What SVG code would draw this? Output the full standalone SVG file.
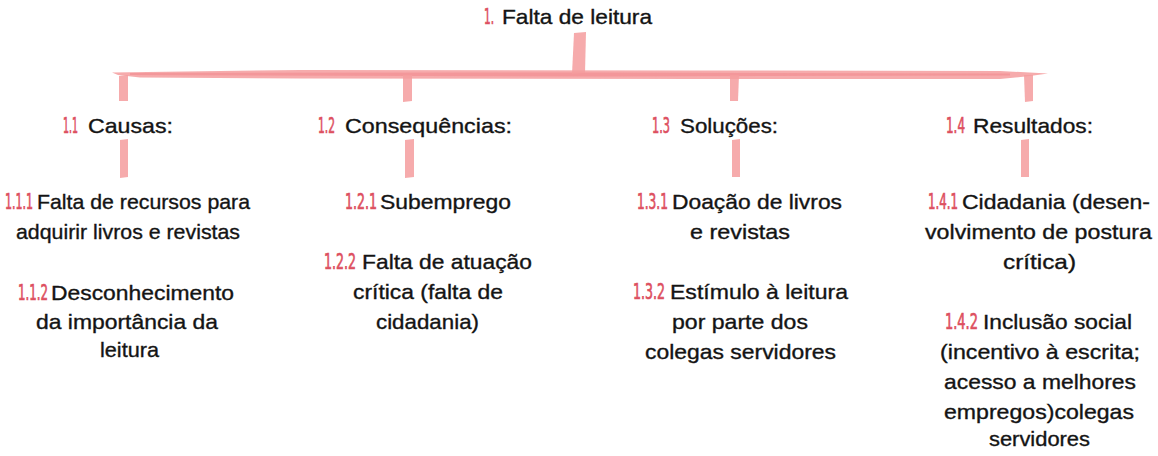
<svg xmlns="http://www.w3.org/2000/svg" width="1158" height="456" viewBox="0 0 1158 456">
<style>
.t{font-family:"Liberation Sans",Arial,sans-serif;font-size:21px;fill:#141414;stroke:#141414;stroke-width:0.35}
.n{font-family:"DejaVu Sans Condensed","Liberation Sans Narrow","Liberation Sans",sans-serif;font-size:22px;fill:#dd4f5f;stroke:#dd4f5f;stroke-width:0.7}
.bar{fill:#f59c9e;opacity:0.85}
.bar2{fill:#f28a8d;opacity:0.6}
</style>
<rect width="1158" height="456" fill="#ffffff"/>
<g id="connectors">
<path class="bar" d="M112,72.5 L300,70 L700,70.5 L1000,71 L1048,73.5 L1030,76 L1000,79 L700,79 L300,78.5 L140,77.5 L118,75 Z"/>
<path class="bar2" d="M130,73 L600,72.5 L1010,73.5 L1010,75.5 L600,76.5 L130,75 Z"/>
<path class="bar" d="M574,33 L586,32 L585,73 L572,74 Z"/>
<path class="bar" d="M119,76 L128,75 L128,101 L119,101 Z"/>
<path class="bar" d="M120,140 L128,139 L128,177 L120,178 Z"/>
<path class="bar" d="M403,75 L412,75 L412,101 L403,102 Z"/>
<path class="bar" d="M405,140 L414,139 L414,177 L405,178 Z"/>
<path class="bar" d="M730,75 L739,75 L738,101 L730,101 Z"/>
<path class="bar" d="M732,140 L740,139 L740,177 L732,177 Z"/>
<path class="bar" d="M1024,75 L1033,75 L1033,101 L1025,102 Z"/>
<path class="bar" d="M1021,140 L1029,139 L1029,177 L1021,177 Z"/>
</g>
<g id="n1">
<text class="t" y="24"><tspan class="n" x="484" textLength="10" lengthAdjust="spacingAndGlyphs">1.</tspan><tspan x="502" textLength="150" lengthAdjust="spacingAndGlyphs">Falta de leitura</tspan></text>
</g>
<g id="n1-1">
<text class="t" y="133"><tspan class="n" x="63" textLength="15" lengthAdjust="spacingAndGlyphs">1.1</tspan><tspan x="88" textLength="85" lengthAdjust="spacingAndGlyphs">Causas:</tspan></text>
</g>
<g id="n1-1-1">
<text class="t" y="209"><tspan class="n" x="5" textLength="28" lengthAdjust="spacingAndGlyphs">1.1.1</tspan><tspan x="37" textLength="213" lengthAdjust="spacingAndGlyphs">Falta de recursos para</tspan></text>
<text class="t" x="16" y="239" textLength="224" lengthAdjust="spacingAndGlyphs">adquirir livros e revistas</text>
</g>
<g id="n1-1-2">
<text class="t" y="300"><tspan class="n" x="18" textLength="30" lengthAdjust="spacingAndGlyphs">1.1.2</tspan><tspan x="51" textLength="183" lengthAdjust="spacingAndGlyphs">Desconhecimento</tspan></text>
<text class="t" x="36" y="329" textLength="182" lengthAdjust="spacingAndGlyphs">da importância da</text>
<text class="t" x="100" y="357" textLength="59" lengthAdjust="spacingAndGlyphs">leitura</text>
</g>
<g id="n1-2">
<text class="t" y="133"><tspan class="n" x="318" textLength="17" lengthAdjust="spacingAndGlyphs">1.2</tspan><tspan x="345" textLength="167" lengthAdjust="spacingAndGlyphs">Consequências:</tspan></text>
</g>
<g id="n1-2-1">
<text class="t" y="209"><tspan class="n" x="345" textLength="32" lengthAdjust="spacingAndGlyphs">1.2.1</tspan><tspan x="380" textLength="131" lengthAdjust="spacingAndGlyphs">Subemprego</tspan></text>
</g>
<g id="n1-2-2">
<text class="t" y="269"><tspan class="n" x="324" textLength="32" lengthAdjust="spacingAndGlyphs">1.2.2</tspan><tspan x="362" textLength="170" lengthAdjust="spacingAndGlyphs">Falta de atuação</tspan></text>
<text class="t" x="353" y="299" textLength="150" lengthAdjust="spacingAndGlyphs">crítica (falta de</text>
<text class="t" x="376" y="329" textLength="103" lengthAdjust="spacingAndGlyphs">cidadania)</text>
</g>
<g id="n1-3">
<text class="t" y="133"><tspan class="n" x="652" textLength="18" lengthAdjust="spacingAndGlyphs">1.3</tspan><tspan x="680" textLength="98" lengthAdjust="spacingAndGlyphs">Soluções:</tspan></text>
</g>
<g id="n1-3-1">
<text class="t" y="209"><tspan class="n" x="637" textLength="31" lengthAdjust="spacingAndGlyphs">1.3.1</tspan><tspan x="672" textLength="170" lengthAdjust="spacingAndGlyphs">Doação de livros</tspan></text>
<text class="t" x="690" y="239" textLength="100" lengthAdjust="spacingAndGlyphs">e revistas</text>
</g>
<g id="n1-3-2">
<text class="t" y="299"><tspan class="n" x="633" textLength="32" lengthAdjust="spacingAndGlyphs">1.3.2</tspan><tspan x="670" textLength="178" lengthAdjust="spacingAndGlyphs">Estímulo à leitura</tspan></text>
<text class="t" x="672" y="329" textLength="136" lengthAdjust="spacingAndGlyphs">por parte dos</text>
<text class="t" x="645" y="359" textLength="191" lengthAdjust="spacingAndGlyphs">colegas servidores</text>
</g>
<g id="n1-4">
<text class="t" y="133"><tspan class="n" x="946" textLength="19" lengthAdjust="spacingAndGlyphs">1.4</tspan><tspan x="973" textLength="120" lengthAdjust="spacingAndGlyphs">Resultados:</tspan></text>
</g>
<g id="n1-4-1">
<text class="t" y="209"><tspan class="n" x="928" textLength="30" lengthAdjust="spacingAndGlyphs">1.4.1</tspan><tspan x="962" textLength="188" lengthAdjust="spacingAndGlyphs">Cidadania (desen-</tspan></text>
<text class="t" x="925" y="239" textLength="227" lengthAdjust="spacingAndGlyphs">volvimento de postura</text>
<text class="t" x="1003" y="269" textLength="73" lengthAdjust="spacingAndGlyphs">crítica)</text>
</g>
<g id="n1-4-2">
<text class="t" y="329"><tspan class="n" x="945" textLength="33" lengthAdjust="spacingAndGlyphs">1.4.2</tspan><tspan x="983" textLength="149" lengthAdjust="spacingAndGlyphs">Inclusão social</tspan></text>
<text class="t" x="940" y="359" textLength="200" lengthAdjust="spacingAndGlyphs">(incentivo à escrita;</text>
<text class="t" x="944" y="389" textLength="192" lengthAdjust="spacingAndGlyphs">acesso a melhores</text>
<text class="t" x="944" y="419" textLength="190" lengthAdjust="spacingAndGlyphs">empregos)colegas</text>
<text class="t" x="989" y="446" textLength="101" lengthAdjust="spacingAndGlyphs">servidores</text>
</g>
</svg>
